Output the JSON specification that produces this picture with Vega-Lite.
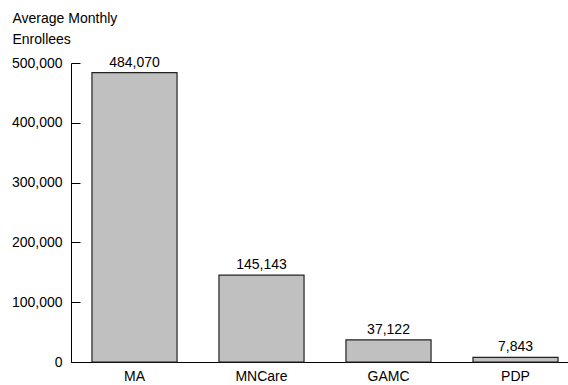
{
  "$schema": "https://vega.github.io/schema/vega-lite/v6.json",
  "autosize": {"type": "none"},
  "width": 508,
  "height": 299,
  "padding": {"left": 71, "top": 63, "right": 0, "bottom": 23},
  "background": "white",
  "config": {
    "view": {"stroke": null},
    "font": "Liberation Sans",
    "text": {"font": "Liberation Sans"}
  },
  "data": {
    "values": [
      {"program": "MA", "enrollees": 484070},
      {"program": "MNCare", "enrollees": 145143},
      {"program": "GAMC", "enrollees": 37122},
      {"program": "PDP", "enrollees": 7843}
    ]
  },
  "encoding": {
    "x": {
      "field": "program",
      "type": "nominal",
      "sort": null,
      "scale": {"paddingInner": 0.33, "paddingOuter": 0.165},
      "axis": {
        "title": null,
        "labelAngle": 0,
        "ticks": false,
        "domainColor": "black",
        "domainWidth": 1,
        "labelFont": "Liberation Sans",
        "labelFontSize": 14,
        "labelColor": "black",
        "labelPadding": 7
      }
    },
    "y": {
      "field": "enrollees",
      "type": "quantitative",
      "scale": {"domain": [0, 500000], "nice": false},
      "axis": {
        "values": [0, 100000, 200000, 300000, 400000, 500000],
        "format": ",d",
        "grid": false,
        "tickSize": -9,
        "tickColor": "black",
        "domainColor": "black",
        "labelFont": "Liberation Sans",
        "labelFontSize": 14,
        "labelColor": "black",
        "labelPadding": 18,
        "title": ["Average Monthly", "Enrollees"],
        "titleAngle": 0,
        "titleAlign": "left",
        "titleBaseline": "alphabetic",
        "titleX": -59,
        "titleY": -41,
        "titleFont": "Liberation Sans",
        "titleFontSize": 14,
        "titleFontWeight": "normal",
        "titleColor": "black",
        "titleLineHeight": 21
      }
    }
  },
  "layer": [
    {
      "mark": {"type": "bar", "fill": "#c0c0c0", "stroke": "#222222", "strokeWidth": 1.2}
    },
    {
      "mark": {"type": "text", "baseline": "alphabetic", "dy": -6, "fontSize": 14, "color": "black", "font": "Liberation Sans"},
      "encoding": {"text": {"field": "enrollees", "type": "quantitative", "format": ",d"}}
    }
  ]
}
